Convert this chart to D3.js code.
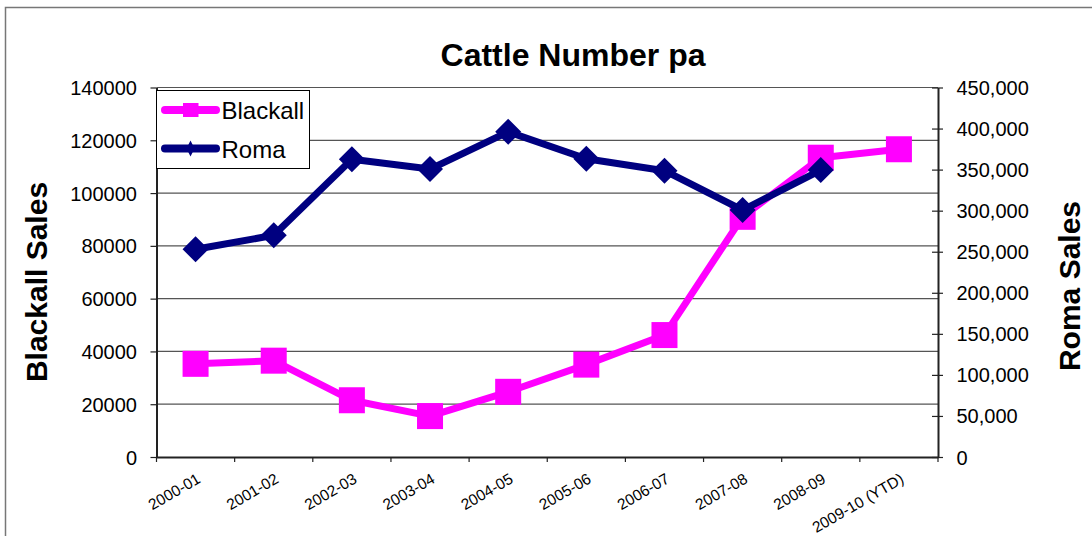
<!DOCTYPE html>
<html>
<head>
<meta charset="utf-8">
<script src="https://cdn.jsdelivr.net/npm/d3@7"></script>
<style>
  body { margin: 0; background: #fff; }
  svg { font-family: "Liberation Sans", Arial, sans-serif; }
</style>
</head>
<body>
<svg id="chart" width="1092" height="536"></svg>
<script>
var categories = ["2000-01", "2001-02", "2002-03", "2003-04", "2004-05",
                  "2005-06", "2006-07", "2007-08", "2008-09", "2009-10 (YTD)"];
var blackall = [35300, 36500, 21500, 15500, 24700, 35000, 46200, 91000, 113400, 116600];
var roma = [253000, 270000, 362500, 350700, 396000, 363300, 348700, 300800, 349500];
var leftTicks = [0, 20000, 40000, 60000, 80000, 100000, 120000, 140000];
var rightTicks = [0, 50000, 100000, 150000, 200000, 250000, 300000, 350000, 400000, 450000];

var pink = "#ff00ff",
    navy = "#000080",
    plotLeft = 156.5, plotRight = 938, plotTop = 87.5, plotBottom = 457;

var svg = d3.select("#chart");

// chart area border (runs off the picture at right and bottom)
svg.append("rect")
  .attr("x", 5.5).attr("y", 7.5)
  .attr("width", 1200).attr("height", 700)
  .attr("fill", "none").attr("stroke", "#777").attr("stroke-width", 1.5);

var x = d3.scaleBand().domain(categories).range([plotLeft, plotRight]).padding(0);
var yL = d3.scaleLinear().domain([0, 140000]).range([plotBottom, plotTop]);
var yR = d3.scaleLinear().domain([0, 450000]).range([plotBottom, plotTop]);

// gridlines from left axis
svg.append("g")
  .selectAll("line")
  .data(leftTicks.slice(1))
  .enter()
  .append("line")
  .attr("x1", plotLeft).attr("x2", plotRight)
  .attr("y1", d => yL(d)).attr("y2", d => yL(d))
  .attr("stroke", "#555").attr("stroke-width", 1.2);

// left axis
var gL = svg.append("g")
  .attr("transform", `translate(${plotLeft},0)`)
  .call(d3.axisLeft(yL).tickValues(leftTicks).tickSize(6).tickSizeOuter(0).tickFormat(d3.format("d")));
gL.select(".domain").attr("stroke", "#222").attr("stroke-width", 2);
gL.selectAll(".tick line").attr("stroke", "#222").attr("stroke-width", 1.2);
gL.selectAll(".tick text")
  .attr("x", -19.5).attr("dy", "0.35em")
  .attr("fill", "#000").style("font-size", "20px")
  .style("font-family", "'Liberation Sans', Arial, sans-serif");

// right axis
var gR = svg.append("g")
  .attr("transform", `translate(${plotRight},0)`)
  .call(d3.axisRight(yR).tickValues(rightTicks).tickSize(5).tickSizeOuter(0).tickFormat(d3.format(",")));
gR.select(".domain").attr("stroke", "#222").attr("stroke-width", 2);
gR.selectAll(".tick line").attr("x1", -6).attr("stroke", "#222").attr("stroke-width", 1.2);
gR.selectAll(".tick text")
  .attr("x", 18.5).attr("dy", "0.35em")
  .attr("fill", "#000").style("font-size", "20px")
  .style("font-family", "'Liberation Sans', Arial, sans-serif");

// bottom axis: ticks on category boundaries, labels at centres
var gB = svg.append("g")
  .attr("transform", `translate(0,${plotBottom})`)
  .call(d3.axisBottom(x).tickSize(0).tickSizeOuter(0));
gB.select(".domain").attr("stroke", "#222").attr("stroke-width", 2);
gB.selectAll(".tick text")
  .attr("text-anchor", "end")
  .attr("x", 0).attr("y", 0).attr("dy", 0)
  .attr("transform", "translate(6,25) rotate(-30)")
  .attr("fill", "#000").style("font-size", "15.5px")
  .style("font-family", "'Liberation Sans', Arial, sans-serif");
gB.selectAll(".boundary")
  .data(categories.map(c => x(c)).concat([plotRight]))
  .enter()
  .append("line")
  .attr("class", "boundary")
  .attr("x1", d => d).attr("x2", d => d)
  .attr("y1", 0).attr("y2", 5)
  .attr("stroke", "#222").attr("stroke-width", 1.2);

var cx = d => x(d) + x.bandwidth() / 2;

// Blackall series
svg.append("path")
  .datum(blackall)
  .attr("fill", "none").attr("stroke", pink).attr("stroke-width", 7)
  .attr("stroke-linejoin", "round")
  .attr("d", d3.line().x((d, i) => cx(categories[i])).y(d => yL(d)));
svg.append("g")
  .selectAll("rect")
  .data(blackall)
  .enter()
  .append("rect")
  .attr("x", (d, i) => cx(categories[i]) - 13)
  .attr("y", d => yL(d) - 13)
  .attr("width", 26).attr("height", 26)
  .attr("fill", pink);

// Roma series (drawn on top)
var diamond = s => `M0,${-s}L${s},0L0,${s}L${-s},0Z`;
svg.append("path")
  .datum(roma)
  .attr("fill", "none").attr("stroke", navy).attr("stroke-width", 7)
  .attr("stroke-linejoin", "round")
  .attr("d", d3.line().x((d, i) => cx(categories[i])).y(d => yR(d)));
svg.append("g")
  .selectAll("path")
  .data(roma)
  .enter()
  .append("path")
  .attr("transform", (d, i) => `translate(${cx(categories[i])},${yR(d)})`)
  .attr("d", diamond(13))
  .attr("fill", navy);

// title
svg.append("text")
  .attr("x", 573).attr("y", 66)
  .attr("text-anchor", "middle")
  .style("font-size", "32px").style("font-weight", "bold")
  .text("Cattle Number pa");

// axis titles
svg.append("text")
  .attr("transform", "translate(46.5,282) rotate(-90)")
  .attr("text-anchor", "middle")
  .style("font-size", "30px").style("font-weight", "bold")
  .text("Blackall Sales");
svg.append("text")
  .attr("transform", "translate(1080,286) rotate(-90)")
  .attr("text-anchor", "middle")
  .style("font-size", "30px").style("font-weight", "bold")
  .text("Roma Sales");

// legend
var legend = svg.append("g");
legend.append("rect")
  .attr("x", 156.5).attr("y", 90.5)
  .attr("width", 153).attr("height", 78)
  .attr("fill", "#fff").attr("stroke", "#000").attr("stroke-width", 1);
var legendItems = [
  { name: "Blackall", color: pink, y: 110, marker: "square" },
  { name: "Roma", color: navy, y: 148.5, marker: "diamond" }
];
legend.selectAll(".item")
  .data(legendItems)
  .enter()
  .append("g")
  .attr("class", "item")
  .each(function(d) {
    var g = d3.select(this);
    g.append("line")
      .attr("x1", 165).attr("x2", 216)
      .attr("y1", d.y).attr("y2", d.y)
      .attr("stroke", d.color).attr("stroke-width", 8)
      .attr("stroke-linecap", "round");
    if (d.marker === "square") {
      g.append("rect")
        .attr("x", 183).attr("y", d.y - 7)
        .attr("width", 15.5).attr("height", 14)
        .attr("fill", d.color);
    } else {
      g.append("path")
        .attr("transform", `translate(190.5,${d.y}) scale(0.5,1)`)
        .attr("d", diamond(8))
        .attr("fill", d.color);
    }
    g.append("text")
      .attr("x", 221.5).attr("y", d.y + 9)
      .style("font-size", "24px")
      .text(d.name);
  });
</script>
</body>
</html>
